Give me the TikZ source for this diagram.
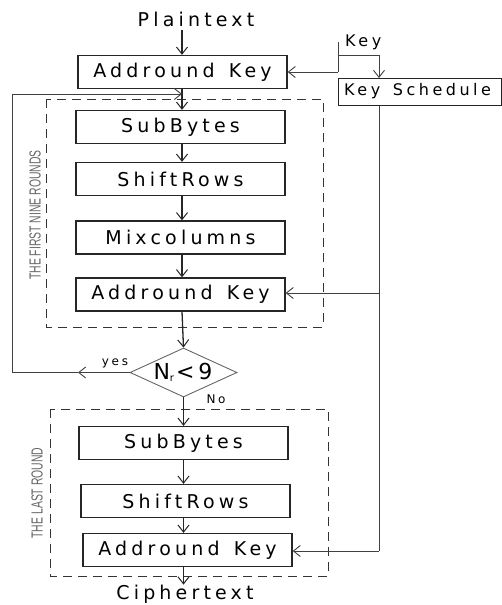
\documentclass[tikz,border=0pt]{standalone}
\usepackage{fontspec}
\usetikzlibrary{arrows.meta,shapes.geometric}
\newfontfamily\lsf[LetterSpace=22]{DejaVu Sans}
\newfontfamily\nsf{Liberation Sans}
\newfontfamily\dsf{DejaVu Sans}
\tikzset{
  blk/.style={draw=black!85, line width=1.3pt, minimum width=209pt, minimum height=33pt, inner sep=0pt, font=\lsf\fontsize{19}{22}\selectfont},
  lbl/.style={inner sep=0pt, font=\lsf\fontsize{19}{22}\selectfont},
  slbl/.style={inner sep=0pt, font=\lsf\fontsize{16}{18}\selectfont},
  flow/.style={line width=1.3pt, draw=black!85, -{Straight Barb[length=7pt,width=11pt,line width=1pt]}},
  thin/.style={line width=0.9pt, draw=black!75, -{Straight Barb[length=7pt,width=11pt,line width=0.9pt]}},
  plain/.style={line width=0.9pt, draw=black!75},
  region/.style={draw=black!80, line width=1pt, dash pattern=on 9pt off 6pt},
  vlabel/.style={inner sep=0pt, rotate=90, text=black!60, font=\nsf\fontsize{16}{18}\selectfont},
}
\begin{document}
\begin{tikzpicture}[x=1pt,y=-1pt]
\useasboundingbox (0,0) rectangle (502,605);
% regions
\draw[region] (46,99) rectangle (323,327);
\draw[region] (50,409) rectangle (328,576);
\node[vlabel] (v1) at (35,215) {\scalebox{0.65}[1]{THE FIRST NINE ROUNDS}};
\node[vlabel] (v2) at (37,493) {\scalebox{0.65}[1]{THE LAST ROUND}};
% nodes
\node[lbl] (pt) at (196,19) {Plaintext};
\node[blk] (ak1) at (182.5,72) {Addround\hspace{4pt} Key};
\node[slbl, anchor=south west] (key) at (345,50) {Key};
\node[draw=black!85, line width=1pt, anchor=north west, minimum width=163pt, minimum height=27pt, inner sep=0pt] (ks) at (338,78) {};
\node[slbl, anchor=west] (kst) at (344,91.5) {Key\hspace{4pt} Schedule};
\node[blk] (sb1) at (180.5,127) {SubBytes};
\node[blk] (sr1) at (180.5,179) {ShiftRows};
\node[blk] (mc1) at (180.5,237.5) {Mixcolumns};
\node[blk] (ak2) at (180.5,294.5) {Addround\hspace{4pt} Key};
\node[diamond, draw=black!60, line width=0.9pt, minimum width=107pt, minimum height=49pt, inner sep=0pt, aspect=2.18] (dia) at (183.5,372.5) {};
\node[inner sep=0pt, font=\dsf\fontsize{22}{24}\selectfont] (cond) at (183,372) {N\raisebox{-0.15ex}{\fontsize{10}{10}\selectfont r}\hspace{2pt}<\hspace{4pt}9};
\node[blk] (sb2) at (183.5,443) {SubBytes};
\node[blk] (sr2) at (185.5,501) {ShiftRows};
\node[blk] (ak3) at (187.5,550) {Addround\hspace{4pt} Key};
\node[lbl] (ct) at (185,594) {Ciphertext};
\node[inner sep=0pt, font=\lsf\fontsize{12}{14}\selectfont] (yes) at (115,363) {yes};
\node[inner sep=0pt, font=\lsf\fontsize{12}{14}\selectfont] (no) at (216,399.5) {No};
% coordinates
\coordinate (ktop) at (338,42);
\coordinate (kj) at (338,72);
\coordinate (kbr) at (379,55);
\coordinate (ksb) at (379,105);
\coordinate (kj2) at (379,293);
\coordinate (kj3) at (379,551);
\coordinate (yarr) at (78,372.5);
\coordinate (lp) at (12,372.5);
\coordinate (lt) at (12,94);
\coordinate (lm) at (182,94);
% main flow
\draw[flow] (pt.south -| 182,0) ++(0,3) -- (ak1.north -| 182,0);
\draw[flow] (ak1.south -| 182,0) -- (sb1.north -| 182,0);
\draw[flow] (sb1.south -| 182,0) -- (sr1.north -| 182,0);
\draw[flow] (sr1.south -| 182,0) -- (mc1.north -| 182,0);
\draw[flow] (mc1.south -| 182,0) -- (ak2.north -| 182,0);
\draw[flow] (ak2.south -| 182,0) -- (dia.north);
\draw[flow] (dia.south) -- (sb2.north -| 183.5,0);
\draw[flow] (sb2.south -| 183.5,0) -- (sr2.north -| 183.5,0);
\draw[flow] (sr2.south -| 183.5,0) -- (ak3.north -| 183.5,0);
\draw[flow] (ak3.south -| 183.5,0) -- (ct.north -| 183.5,0);
% key path
\draw[plain] (ktop) -- (kj);
\draw[thin] (kj) -- (ak1.east |- kj);
\draw[thin] (338,55) -- (kbr) -- (ks.north -| kbr);
\draw[plain] (ks.south -| ksb) -- (kj3);
\draw[thin] (kj2) -- (ak2.east |- kj2);
\draw[thin] (kj3) -- (ak3.east |- kj3);
% loop
\draw[thin] (dia.west) -- (yarr);
\draw[thin] (yarr) -- (lp) -- (lt) -- (lm);
\end{tikzpicture}
\end{document}
